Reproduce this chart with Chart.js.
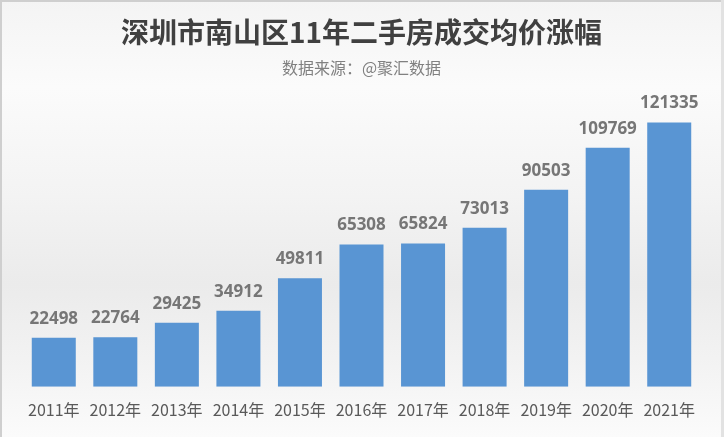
<!DOCTYPE html>
<html>
<head>
<meta charset="utf-8">
<script src="https://cdn.jsdelivr.net/npm/chart.js@4/dist/chart.umd.min.js"></script>
<style>
html,body{margin:0;padding:0;background:#fafafa;}
#wrap{width:724px;height:437px;position:relative;}
</style>
</head>
<body>
<div id="wrap"><canvas id="c" width="724" height="437"></canvas></div>
<script>
const categories = ["2011年","2012年","2013年","2014年","2015年","2016年","2017年","2018年","2019年","2020年","2021年"];
const avgPrice = [22498,22764,29425,34912,49811,65308,65824,73013,90503,109769,121335];
const titleText = "深圳市南山区11年二手房成交均价涨幅";
const subtitleText = "数据来源：@聚汇数据";

const bgPlugin = {
  id: 'bg',
  beforeDraw(chart) {
    const ctx = chart.ctx, w = chart.width, h = chart.height;
    ctx.save();
    const g = ctx.createLinearGradient(0, 0, 0, h);
    g.addColorStop(0, '#f4f4f4');
    g.addColorStop(0.2, '#fbfbfb');
    g.addColorStop(0.45, '#f3f3f3');
    g.addColorStop(0.65, '#ebebeb');
    g.addColorStop(0.82, '#f2f2f2');
    g.addColorStop(1, '#fbfbfb');
    ctx.fillStyle = g;
    ctx.fillRect(0, 0, w, h);
    ctx.fillStyle = '#cfcfcf';
    ctx.fillRect(0, 0, w, 2);
    ctx.fillRect(0, 0, 2, h);
    ctx.fillStyle = '#e2e2e2';
    ctx.fillRect(w - 3, 0, 3, h);
    ctx.restore();
  }
};

const valuePlugin = {
  id: 'values',
  afterDatasetsDraw(chart) {
    const ctx = chart.ctx;
    const meta = chart.getDatasetMeta(0);
    ctx.save();
    ctx.font = 'bold 17px "Open Sans", "Liberation Sans", sans-serif';
    ctx.fillStyle = '#767676';
    ctx.textAlign = 'center';
    ctx.textBaseline = 'middle';
    meta.data.forEach((bar, i) => {
      ctx.fillText(String(avgPrice[i]), bar.x, bar.y - 19);
    });
    ctx.restore();
  }
};

new Chart(document.getElementById('c'), {
  type: 'bar',
  data: {
    labels: categories,
    datasets: [{
      data: avgPrice,
      backgroundColor: '#5995d3',
      borderWidth: 0,
      categoryPercentage: 1,
      barPercentage: 0.715
    }]
  },
  options: {
    responsive: false,
    animation: false,
    devicePixelRatio: 1,
    layout: { padding: { left: 23, right: 24, top: 0, bottom: 3 } },
    plugins: {
      legend: { display: false },
      tooltip: { enabled: false },
      title: {
        display: true,
        text: titleText,
        color: '#404040',
        font: { family: '"Noto Sans CJK SC", sans-serif', size: 28, weight: 'bold' },
        padding: { top: 16, bottom: 9 }
      },
      subtitle: {
        display: true,
        text: subtitleText,
        color: '#808080',
        font: { family: '"Noto Sans CJK SC", sans-serif', size: 16 },
        padding: { top: 0, bottom: 2 }
      }
    },
    scales: {
      x: {
        grid: { display: false, drawTicks: false },
        border: { display: false },
        ticks: {
          color: '#595959',
          font: { family: '"Noto Sans CJK SC", sans-serif', size: 16 },
          padding: 14,
          maxRotation: 0,
          autoSkip: false
        }
      },
      y: {
        display: false,
        min: 0,
        max: 141000
      }
    }
  },
  plugins: [bgPlugin, valuePlugin]
});
</script>
</body>
</html>
